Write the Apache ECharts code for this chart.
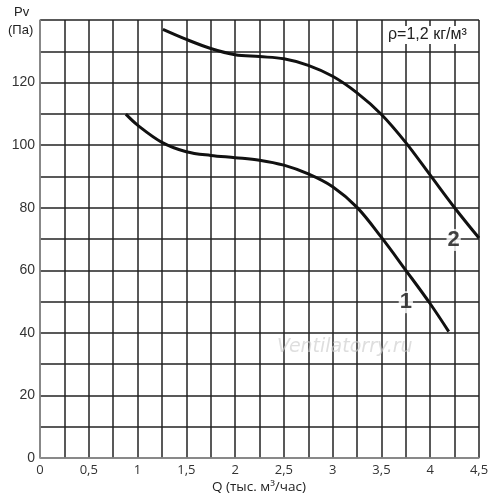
<!DOCTYPE html>
<html>
<head>
<meta charset="utf-8">
<script src="https://cdn.jsdelivr.net/npm/echarts@6/dist/echarts.min.js"></script>
<style>
html,body{margin:0;padding:0;background:#fff;}
#chart{width:500px;height:500px;}
</style>
</head>
<body>
<div id="chart"></div>
<script>
// curve 1 (lower) - Q in thousand m3/h, Pv in Pa
var curve1Q = [0.88, 1.0, 1.25, 1.5, 1.75, 2.0, 2.25, 2.5, 2.75, 3.0, 3.25, 3.5, 3.75, 4.0, 4.19];
var curve1P = [109.9, 106.4, 100.9, 97.9, 96.7, 96.0, 95.2, 93.6, 90.8, 86.7, 80.1, 70.5, 60.0, 49.3, 40.4];
// curve 2 (upper)
var curve2Q = [1.26, 1.5, 1.75, 2.0, 2.25, 2.5, 2.75, 3.0, 3.25, 3.5, 3.75, 4.0, 4.25, 4.5];
var curve2P = [137.0, 133.8, 130.9, 128.9, 128.3, 127.6, 125.5, 122.0, 116.7, 109.8, 100.8, 90.4, 80.0, 70.3];
// curve number labels [Q, P, text]
var curveLabels = [[3.75, 49.8, '1'], [4.24, 69.7, '2']];

function pairs(xs, ys){
    var out = [];
    for (var i = 0; i < xs.length; i++){
        out.push([xs[i], ys[i]]);
    }
    return out;
}

var myChart = echarts.init(document.getElementById('chart'));
var font = 'Liberation Sans';
var option = {
    animation: false,
    backgroundColor: '#fff',
    grid: {
        left: 40,
        right: 21,
        top: 20,
        bottom: 42
    },
    graphic: [
        {type: 'text', left: 14, top: 6, style: {text: 'Pv', fontSize: 13, fontFamily: font, fill: '#222'}},
        {type: 'text', left: 8, top: 24, style: {text: '(Па)', fontSize: 13, fontFamily: font, fill: '#222'}},
        {type: 'text', left: 212, top: 480, style: {text: 'Q (тыс. м³/час)', fontSize: 13.5, fontFamily: 'Open Sans', fill: '#222'}},
        {type: 'text', left: 387, top: 26, z: 100,
         style: {text: 'ρ=1,2 кг/м³', fontSize: 16, fontFamily: font, fill: '#222', backgroundColor: '#fff', padding: [1, 1]}},
        {type: 'text', left: 277, top: 338, z: 100,
         style: {text: 'Ventilatorry.ru', fontSize: 19, fontStyle: 'italic', fontFamily: 'DejaVu Sans', fill: 'rgba(205,205,205,0.65)'}}
    ],
    xAxis: {
        type: 'value',
        min: 0,
        max: 4.5,
        interval: 0.25,
        axisLine: {show: true, lineStyle: {color: '#999', width: 1.5}},
        axisTick: {show: false},
        axisLabel: {
            margin: 6,
            fontSize: 13,
            fontFamily: 'Open Sans',
            color: '#333',
            showMaxLabel: true,
            formatter: function (v) {
                if (Math.abs(v * 2 - Math.round(v * 2)) > 1e-6) return '';
                return String(v).replace('.', ',');
            }
        },
        splitLine: {show: true, lineStyle: {color: '#222', width: 1.5}}
    },
    yAxis: {
        type: 'value',
        min: 0,
        max: 140,
        interval: 10,
        axisLine: {show: true, lineStyle: {color: '#999', width: 1.5}},
        axisTick: {show: false},
        axisLabel: {
            margin: 5,
            fontSize: 14,
            fontFamily: font,
            color: '#333',
            formatter: function (v) {
                return (v % 20 === 0 && v < 140) ? String(v) : '';
            }
        },
        splitLine: {show: true, lineStyle: {color: '#222', width: 1.5}}
    },
    series: [
        {
            name: '1',
            type: 'line',
            smooth: 0.35,
            symbol: 'none',
            lineStyle: {color: '#111', width: 3},
            data: pairs(curve1Q, curve1P),
            z: 5
        },
        {
            name: '2',
            type: 'line',
            smooth: 0.35,
            symbol: 'none',
            lineStyle: {color: '#111', width: 3},
            data: pairs(curve2Q, curve2P),
            z: 5
        },
        {
            type: 'scatter',
            symbolSize: 0,
            z: 10,
            data: curveLabels.map(function (d) { return [d[0], d[1], d[2]]; }),
            label: {
                show: true,
                position: 'inside',
                formatter: function (p) { return p.value[2]; },
                fontSize: 22,
                fontWeight: 'bold',
                fontFamily: font,
                color: '#111',
                backgroundColor: '#fff',
                padding: [0, 1]
            }
        }
    ]
};
myChart.setOption(option);
</script>
</body>
</html>
